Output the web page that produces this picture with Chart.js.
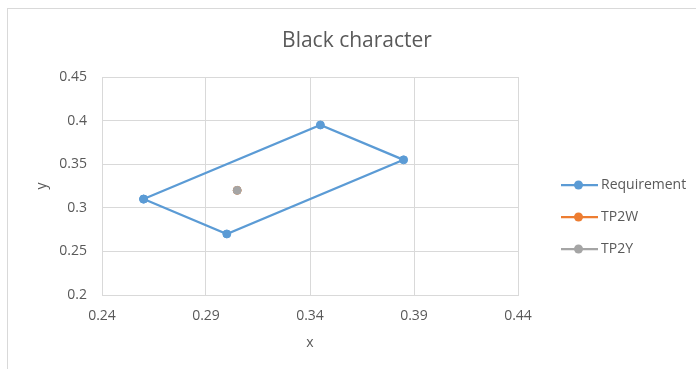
<!DOCTYPE html>
<html>
<head>
<meta charset="utf-8">
<script src="https://cdn.jsdelivr.net/npm/chart.js@4/dist/chart.umd.min.js"></script>
<style>
  html, body { margin: 0; padding: 0; background: #fff; overflow: hidden; }
  #wrap { position: relative; width: 696px; height: 369px; }
</style>
</head>
<body>
<div id="wrap"><canvas id="c" width="696" height="369"></canvas></div>
<script>
// Chromaticity data
const requirementX = [0.26, 0.345, 0.385, 0.30, 0.26];
const requirementY = [0.31, 0.395, 0.355, 0.27, 0.31];
const tp2wX = [0.305];
const tp2wY = [0.32];
const tp2yX = [0.305];
const tp2yY = [0.32];
const xTicks = [0.24, 0.29, 0.34, 0.39, 0.44];
const yTicks = [0.2, 0.25, 0.3, 0.35, 0.4, 0.45];

const pts = (xs, ys) => xs.map((x, i) => ({ x: x, y: ys[i] }));
const FONT = '"Segoe UI", "Open Sans", "Noto Sans", sans-serif';
const TXT = '#595959';
const GRID = '#d9d9d9';

// Frame, title and a line-with-marker legend
const decor = {
  id: 'decor',
  beforeDraw(chart) {
    const ctx = chart.ctx;
    ctx.save();
    ctx.strokeStyle = GRID;
    ctx.lineWidth = 1;
    ctx.strokeRect(7.5, 8.5, 900, 500);
    ctx.restore();
  },
  afterDraw(chart) {
    const ctx = chart.ctx;
    ctx.save();
    ctx.fillStyle = TXT;
    ctx.font = '21px ' + FONT;
    ctx.textAlign = 'center';
    ctx.textBaseline = 'middle';
    ctx.fillText('Black character', 357, 41);

    const rowY = [185, 217, 249];
    chart.data.datasets.forEach((ds, i) => {
      const y = rowY[i];
      ctx.strokeStyle = ds.borderColor;
      ctx.lineWidth = 2.25;
      ctx.beginPath();
      ctx.moveTo(561, y);
      ctx.lineTo(598, y);
      ctx.stroke();
      ctx.fillStyle = ds.pointBackgroundColor;
      ctx.beginPath();
      ctx.arc(578.5, y, 4.5, 0, Math.PI * 2);
      ctx.fill();
      ctx.fillStyle = TXT;
      ctx.font = '14px ' + FONT;
      ctx.textAlign = 'left';
      ctx.textBaseline = 'middle';
      ctx.fillText(ds.label, 601, y);
    });
    ctx.restore();
  }
};

new Chart(document.getElementById('c'), {
  type: 'scatter',
  data: {
    datasets: [
      {
        label: 'Requirement',
        data: pts(requirementX, requirementY),
        showLine: true,
        order: 1,
        borderColor: '#5b9bd5',
        backgroundColor: '#5b9bd5',
        pointBackgroundColor: '#5b9bd5',
        pointBorderColor: '#5b9bd5',
        borderWidth: 2.25,
        pointRadius: 4,
        pointBorderWidth: 1,
        tension: 0
      },
      {
        label: 'TP2W',
        data: pts(tp2wX, tp2wY),
        showLine: true,
        order: 2,
        borderColor: '#ed7d31',
        backgroundColor: '#ed7d31',
        pointBackgroundColor: '#ed7d31',
        pointBorderColor: '#ed7d31',
        borderWidth: 2.25,
        pointRadius: 4,
        pointBorderWidth: 1
      },
      {
        label: 'TP2Y',
        data: pts(tp2yX, tp2yY),
        showLine: true,
        order: 0,
        borderColor: '#a5a5a5',
        backgroundColor: '#a5a5a5',
        pointBackgroundColor: '#a5a5a5',
        pointBorderColor: '#a5a5a5',
        borderWidth: 2.25,
        pointRadius: 4,
        pointBorderWidth: 1
      }
    ]
  },
  options: {
    responsive: false,
    animation: false,
    layout: { padding: { left: 34, right: 178, top: 77, bottom: 14 } },
    plugins: { legend: { display: false }, title: { display: false }, tooltip: { enabled: false } },
    scales: {
      x: {
        type: 'linear',
        min: 0.24,
        max: 0.44,
        afterBuildTicks: s => { s.ticks = xTicks.map(v => ({ value: v })); },
        afterFit: s => { s.height = 369 - 295 - 14; },
        grid: { color: GRID, lineWidth: 1, drawTicks: false },
        border: { color: GRID },
        ticks: { color: TXT, font: { size: 14, family: FONT }, padding: 13, callback: v => String(v) },
        title: { display: true, text: 'x', color: TXT, font: { size: 14, family: FONT }, padding: { top: 6 } }
      },
      y: {
        type: 'linear',
        min: 0.2,
        max: 0.45,
        afterBuildTicks: s => { s.ticks = yTicks.map(v => ({ value: v })); },
        afterFit: s => { s.width = 102 - 34; },
        grid: { color: GRID, lineWidth: 1, drawTicks: false },
        border: { color: GRID },
        ticks: { color: TXT, font: { size: 14, family: FONT }, padding: 15, callback: v => String(v) },
        title: { display: true, text: 'y', color: TXT, font: { size: 14, family: FONT }, padding: 0 }
      }
    }
  },
  plugins: [decor]
});
</script>
</body>
</html>
